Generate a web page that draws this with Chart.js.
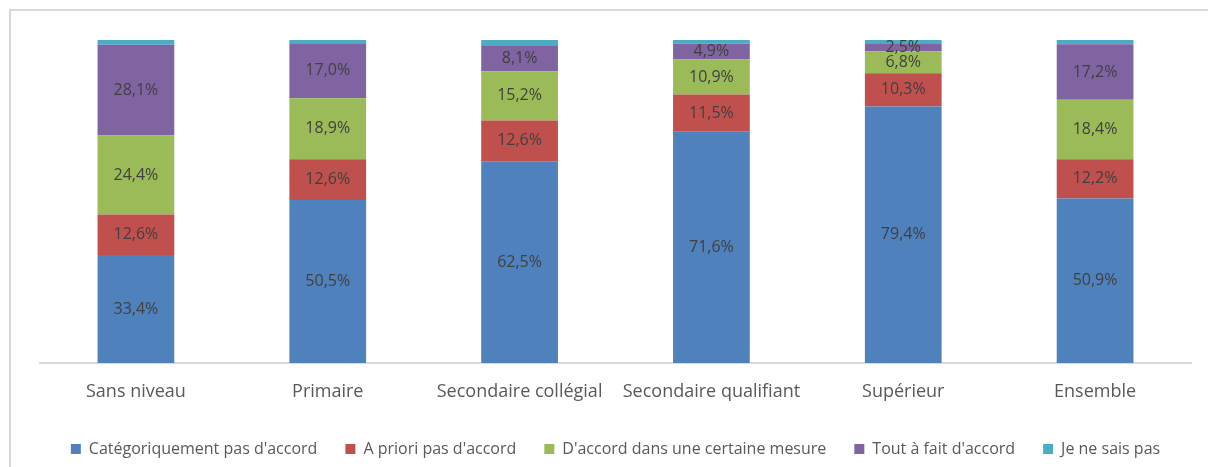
<!DOCTYPE html>
<html>
<head>
<meta charset="utf-8">
<script src="https://cdn.jsdelivr.net/npm/chart.js@4/dist/chart.umd.min.js"></script>
<style>
  html, body { margin: 0; padding: 0; background: #fff; }
  #wrap { position: relative; width: 1208px; height: 467px; overflow: hidden; }
  #frame { position: absolute; left: 9px; top: 9px; width: 1240px; height: 500px; border: 2px solid #d9d9d9; box-sizing: border-box; }
  #chart { position: absolute; left: 0; top: 0; }
</style>
</head>
<body>
<div id="wrap">
  <div id="frame"></div>
  <canvas id="chart" width="1208" height="467"></canvas>
</div>
<script>
var categories = ["Sans niveau", "Primaire", "Secondaire collégial", "Secondaire qualifiant", "Supérieur", "Ensemble"];
var pasDaccord = [33.4, 50.5, 62.5, 71.6, 79.4, 50.9];
var aPrioriPas = [12.6, 12.6, 12.6, 11.5, 10.3, 12.2];
var certaineMesure = [24.4, 18.9, 15.2, 10.9, 6.8, 18.4];
var toutAFait = [28.1, 17.0, 8.1, 4.9, 2.5, 17.2];
var neSaisPas = [1.5, 1.0, 1.6, 1.1, 1.0, 1.3];

// values printed inside each stacked segment (not for the last series)
var segmentLabels = {
  id: "segmentLabels",
  afterDatasetsDraw: function (chart) {
    var ctx = chart.ctx;
    ctx.save();
    ctx.font = "16px 'Open Sans'";
    ctx.fillStyle = "#404040";
    ctx.textAlign = "center";
    ctx.textBaseline = "middle";
    chart.data.datasets.forEach(function (ds, i) {
      if (ds.noLabel) return;
      chart.getDatasetMeta(i).data.forEach(function (bar, j) {
        var p = bar.getProps(["x", "y", "base"], true);
        var txt = ds.data[j].toFixed(1).replace(".", ",") + "%";
        ctx.fillText(txt, p.x, (p.y + p.base) / 2);
      });
    });
    ctx.restore();
  }
};

var ctx = document.getElementById("chart").getContext("2d");
var chart = new Chart(ctx, {
  type: "bar",
  data: {
    labels: categories,
    datasets: [
      { label: "Catégoriquement pas d'accord", data: pasDaccord, backgroundColor: "#4f81bd" },
      { label: "A priori pas d'accord", data: aPrioriPas, backgroundColor: "#c0504d" },
      { label: "D'accord dans une certaine mesure", data: certaineMesure, backgroundColor: "#9bbb59" },
      { label: "Tout à fait d'accord", data: toutAFait, backgroundColor: "#8064a2" },
      { label: "Je ne sais pas", data: neSaisPas, backgroundColor: "#4bacc6", noLabel: true },
    ],
  },
  options: {
    responsive: false,
    animation: false,
    layout: { padding: { top: 40, left: 40, right: 17, bottom: 0 } },
    datasets: { bar: { categoryPercentage: 0.4, barPercentage: 1, borderWidth: 0 } },
    scales: {
      x: {
        stacked: true,
        grid: { display: false, drawTicks: false },
        border: { display: true, color: "#d9d9d9", width: 2 },
        ticks: { color: "#595959", font: { family: "Open Sans", size: 18 }, padding: 18 },
        afterFit: function (scale) { scale.height = 50; },
      },
      y: { stacked: true, display: false, min: 0, max: 100 },
    },
    plugins: {
      legend: {
        position: "bottom",
        labels: {
          boxWidth: 10,
          boxHeight: 10,
          padding: 28,
          color: "#595959",
          font: { family: "Open Sans", size: 16 },
        },
      },
      tooltip: { enabled: false },
    },
  },
  plugins: [segmentLabels],
});
</script>
</body>
</html>
